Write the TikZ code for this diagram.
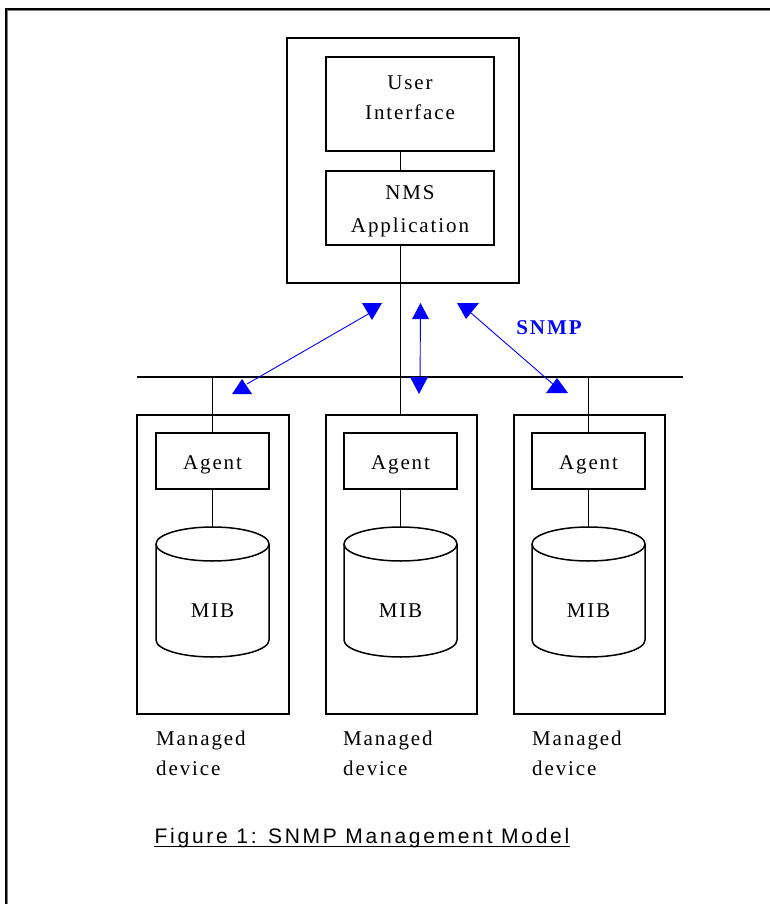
\documentclass[tikz,border=0pt]{standalone}
\usepackage{fontspec}
\setmainfont{Liberation Serif}[LetterSpace=9]
\newfontfamily\capfont{Liberation Sans}[LetterSpace=13]
\begin{document}
\begin{tikzpicture}[x=1pt,y=-1pt,
  box/.style={draw, line width=1.5pt, inner sep=0pt},
  txt/.style={font=\fontsize{21}{30}\selectfont, inner sep=0pt, anchor=base},
  side/.style={font=\fontsize{21}{30}\selectfont, inner sep=0pt, anchor=base west},
  conn/.style={line width=1.5pt},
  snmp/.style={blue, line width=0.9pt},
  tipfill/.style={fill=blue, draw=none}]
\useasboundingbox (0,0) rectangle (770,904);
% window frame
\draw[line width=2pt] (6,904) -- (6,9) -- (770,9);
\draw[gray, line width=1pt] (7.8,904) -- (7.8,10.8) -- (770,10.8);

% NMS station
\node[box, minimum width=232pt, minimum height=245pt] (nms) at (403,160.5) {};
\node[box, minimum width=168pt, minimum height=94pt] (ui) at (410,104) {};
\node[box, minimum width=168pt, minimum height=74pt] (app) at (410,208) {};
\node[txt] (uit1) at (410,90) {User};
\node[txt] (uit2) at (410,120) {Interface};
\node[txt] (appt1) at (410,200) {NMS};
\node[txt] (appt2) at (410,232) {Application};

% bus
\coordinate (busL) at (137,377);
\coordinate (busR) at (683,377);
\coordinate (trunk) at (400.5,377);
\draw[conn] (busL) -- (busR);

% devices
\node[box, minimum width=152pt, minimum height=299pt] (devL) at (213,564.5) {};
\node[box, minimum width=151pt, minimum height=299pt] (devM) at (401.5,564.5) {};
\node[box, minimum width=151pt, minimum height=299pt] (devR) at (589.5,564.5) {};

\node[box, minimum width=113pt, minimum height=56pt] (agL) at (212.5,461) {};
\node[box, minimum width=113pt, minimum height=56pt] (agM) at (400.5,461) {};
\node[box, minimum width=113pt, minimum height=56pt] (agR) at (588.5,461) {};
\node[txt] (agLt) at (212.5,469) {Agent};
\node[txt] (agMt) at (400.5,469) {Agent};
\node[txt] (agRt) at (588.5,469) {Agent};

\foreach \n/\cx in {L/212.5, M/400.5, R/588.5}{
  \node[inner sep=0pt, minimum width=113pt, minimum height=130pt] (mib\n) at (\cx,592) {};
  \draw[conn] (\cx,544) ellipse [x radius=56.5pt, y radius=17pt];
  \draw[conn] (\cx-56.5,544) -- (\cx-56.5,640)
     arc[start angle=180, end angle=360, x radius=56.5pt, y radius=17pt]
     -- (\cx+56.5,544);
  \node[txt] (mibt\n) at (\cx,617) {MIB};
}

% vertical connectors
\draw[conn] (ui.south -| trunk) -- (app.north -| trunk);
\draw[conn] (app.south -| trunk) -- (devM.north -| trunk);
\draw[conn] (agL.north |- busL) -- (agL.north);
\draw[conn] (agR.north |- busL) -- (agR.north);
\draw[conn] (agL.south) -- (mibL.north);
\draw[conn] (agM.south) -- (mibM.north);
\draw[conn] (agR.south) -- (mibR.north);

% SNMP arrows
\coordinate (a1) at (370,313);
\coordinate (a2) at (247,384);
\coordinate (b1) at (420.5,310);
\coordinate (b2) at (420,386);
\coordinate (c1) at (471,313);
\coordinate (c2) at (554,385);
\draw[snmp] (a1) -- (a2);
\draw[snmp] (b1) -- (b2);
\draw[snmp] (c1) -- (c2);
\fill[tipfill] (362,303) -- (382,303) -- (372,320) -- cycle;
\fill[tipfill] (232,394) -- (252,394) -- (242,379) -- cycle;
\fill[tipfill] (412,319) -- (429,319) -- (420.5,303) -- cycle;
\fill[tipfill] (410,377) -- (428,377) -- (419,394) -- cycle;
\fill[tipfill] (457,303) -- (479,303) -- (466,319) -- cycle;
\fill[tipfill] (546,393) -- (568,393) -- (557,378) -- cycle;
\node[txt, blue, font=\fontsize{21}{30}\selectfont\bfseries] (snmplbl) at (549,334) {SNMP};

% device labels
\node[side] (mdL1) at (156,745) {Managed};
\node[side] (mdL2) at (156,775) {device};
\node[side] (mdM1) at (343,745) {Managed};
\node[side] (mdM2) at (343,775) {device};
\node[side] (mdR1) at (532,745) {Managed};
\node[side] (mdR2) at (532,775) {device};

% caption
\node[inner sep=0pt, anchor=base, font=\capfont\fontsize{21}{26}\selectfont] (cap) at (362,843) {Figure 1: SNMP Management Model};
\draw[line width=1.3pt] ([yshift=-3.5pt]cap.base west) -- ([yshift=-3.5pt]cap.base east);
\end{tikzpicture}
\end{document}
